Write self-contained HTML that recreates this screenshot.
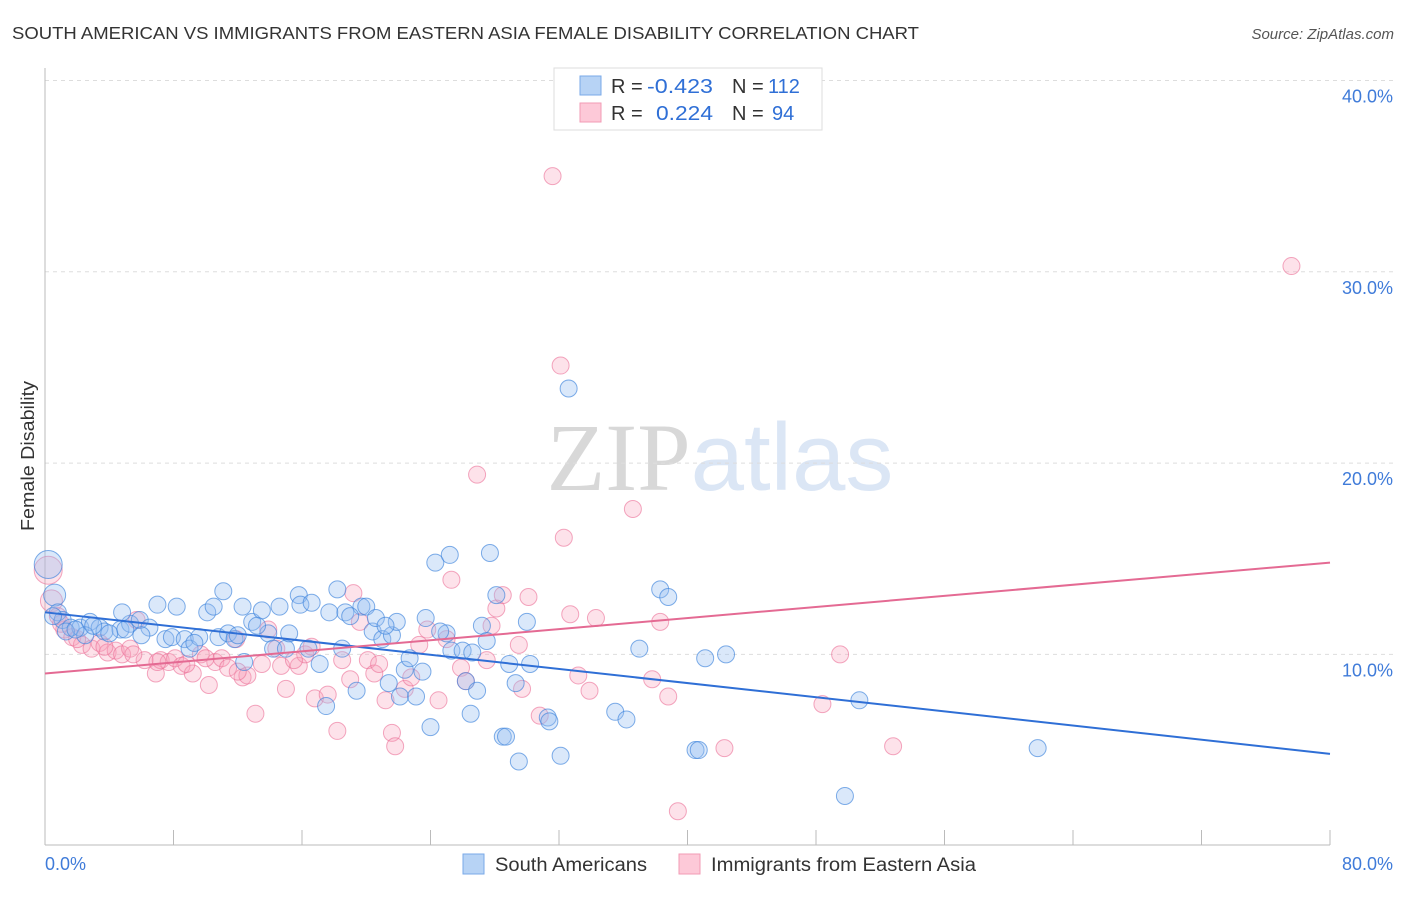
<!DOCTYPE html>
<html><head><meta charset="utf-8"><style>
body{margin:0;background:#fff;font-family:"Liberation Sans",sans-serif;}
svg text{font-family:"Liberation Sans",sans-serif;}
</style></head><body>
<svg id="chart" width="1406" height="892" viewBox="0 0 1406 892" xmlns="http://www.w3.org/2000/svg">
<text x="12" y="39" font-size="17.5" fill="#333" textLength="907" lengthAdjust="spacingAndGlyphs">SOUTH AMERICAN VS IMMIGRANTS FROM EASTERN ASIA FEMALE DISABILITY CORRELATION CHART</text>
<text x="1394" y="39" font-size="15" fill="#555" font-style="italic" text-anchor="end">Source: ZipAtlas.com</text>
<text x="720" y="490" font-size="96" text-anchor="middle" fill="#ddd"><tspan font-family="Liberation Serif" fill="#d8d8d8">ZIP</tspan><tspan fill="#dbe6f5">atlas</tspan></text>
<g id="grid"></g>
<g id="axes"></g>
<g id="pts"></g>
<g id="trend"></g>
<text transform="translate(34,456) rotate(-90)" font-size="18" fill="#333" text-anchor="middle" textLength="150" lengthAdjust="spacingAndGlyphs">Female Disability</text>
<g>
<rect x="554" y="68" width="268" height="62" fill="#fff" stroke="#ddd"/>
<rect x="580" y="76" width="21" height="19" fill="#b7d3f5" stroke="#7aa9e8"/>
<rect x="580" y="103" width="21" height="19" fill="#fdc9d8" stroke="#f29bb5"/>
<text x="611" y="93" font-size="20" fill="#333">R = <tspan x="647" fill="#2f6fd6" textLength="66" lengthAdjust="spacingAndGlyphs">-0.423</tspan><tspan x="732">N = </tspan><tspan x="768" fill="#2f6fd6">112</tspan></text>
<text x="611" y="120" font-size="20" fill="#333">R = <tspan x="656" fill="#2f6fd6" textLength="57" lengthAdjust="spacingAndGlyphs">0.224</tspan><tspan x="732">N = </tspan><tspan x="772" fill="#2f6fd6">94</tspan></text>
</g>
<g>
<rect x="463" y="854" width="21" height="20" fill="#b7d3f5" stroke="#7aa9e8"/>
<text x="495" y="871" font-size="19" fill="#333" textLength="152" lengthAdjust="spacingAndGlyphs">South Americans</text>
<rect x="679" y="854" width="21" height="20" fill="#fdc9d8" stroke="#f29bb5"/>
<text x="711" y="871" font-size="19" fill="#333" textLength="265" lengthAdjust="spacingAndGlyphs">Immigrants from Eastern Asia</text>
</g>
</svg>
<script>
const xTicks=[0,80];
const yTicks=[10,20,30,40];
const blueX=[0.2,0.6,0.8,1.1,1.6,2.2,2.8,3.4,3.7,4.7,5.3,5.9,4.8,6.5,7.0,7.5,7.9,8.2,8.7,9.0,9.6,10.1,10.5,10.8,11.1,11.4,11.8,12.3,12.4,12.9,13.5,13.9,14.2,14.6,15.0,15.2,15.8,15.9,16.6,16.4,17.1,17.5,17.7,18.2,18.7,18.5,19.4,19.7,20.0,20.4,20.6,21.0,21.4,21.6,21.9,22.1,22.4,22.7,23.1,23.5,23.7,24.0,24.3,25.2,25.0,25.3,26.0,26.2,26.5,26.9,27.2,27.5,27.7,28.1,28.5,28.7,28.9,29.3,29.5,30.0,30.2,31.3,31.4,32.1,32.6,35.5,36.2,37.0,38.3,38.8,40.5,40.7,41.1,42.4,49.8,50.7,61.8,1.3,2.5,3.0,4.0,5.0,6.0,9.3,12.0,13.2,19.0,21.2,24.6,26.6,0.5,1.9];
const blueY=[14.7,13.1,12.2,11.8,11.4,11.4,11.7,11.4,11.2,11.3,11.6,11.8,12.2,11.4,12.6,10.8,10.9,12.5,10.8,10.3,10.9,12.2,12.5,10.9,13.3,11.1,10.8,12.5,9.6,11.7,12.3,11.1,10.3,12.5,10.3,11.1,13.1,12.6,12.7,10.3,9.5,7.3,12.2,13.4,12.2,10.3,8.1,12.5,12.5,11.2,11.9,10.8,8.5,11.0,11.7,7.8,9.2,9.8,7.8,9.1,11.9,6.2,14.8,15.2,11.1,10.2,10.2,8.6,6.9,8.1,11.5,10.7,15.3,13.1,5.7,5.7,9.5,8.5,4.4,11.7,9.5,6.7,6.5,4.7,23.9,7.0,6.6,10.3,13.4,13.0,5.0,5.0,9.8,10.0,2.6,7.6,5.1,11.2,11.0,11.5,11.1,11.3,11.0,10.6,11.0,11.5,12.0,11.5,11.2,10.1,12.0,11.3];
const pinkX=[0.2,0.4,0.8,1.2,1.7,2.3,2.9,3.4,3.9,4.4,4.8,5.3,5.7,6.2,6.9,7.2,7.7,8.1,8.5,9.2,9.7,10.2,10.6,11.0,11.4,11.9,12.3,12.6,13.1,13.5,13.9,14.4,14.7,15.0,15.8,16.2,16.6,16.8,17.6,18.2,18.5,19.0,19.2,19.6,20.1,20.5,20.8,21.2,21.6,21.8,22.4,22.8,23.3,23.8,24.5,25.0,25.3,25.9,26.2,26.9,27.5,27.8,28.1,28.5,29.5,29.7,30.1,30.8,31.6,32.1,32.3,32.7,33.2,33.9,34.3,36.6,37.8,38.3,38.8,39.4,42.3,48.4,49.5,52.8,77.6,1.0,2.0,3.7,5.5,7.0,8.8,10.0,12.0,15.5];
const pinkY=[14.4,12.8,12.0,11.3,10.9,10.5,10.3,10.6,10.1,10.2,10.0,10.3,11.8,9.7,9.0,9.7,9.6,9.8,9.4,9.0,10.0,8.4,9.6,9.8,9.3,10.8,8.8,8.9,6.9,9.5,11.3,10.3,9.4,8.2,9.4,10.0,10.4,7.7,7.9,6.0,9.7,8.7,13.2,11.7,9.7,9.0,9.5,7.6,5.9,5.2,8.2,8.8,10.5,11.3,7.6,10.8,13.9,9.3,8.6,19.4,9.7,11.5,12.4,13.1,10.5,8.2,13.0,6.8,35.0,25.1,16.1,12.1,8.9,8.1,11.9,17.6,8.7,11.7,7.8,1.8,5.1,7.4,10.0,5.2,30.3,11.6,10.8,10.4,10.0,9.6,9.5,9.8,9.1,9.7];
const bigBlue=[0,1], bigPink=[0,1];
const blueTrend=[12.2,4.8], pinkTrend=[9.0,14.8];
const NS="http://www.w3.org/2000/svg";
const X=v=>45+v/80*1285, Y=v=>845.7-v*19.13;
function mk(tag,attrs,parent){const e=document.createElementNS(NS,tag);for(const k in attrs)e.setAttribute(k,attrs[k]);parent.appendChild(e);return e;}
const grid=document.getElementById('grid'), axes=document.getElementById('axes');
yTicks.forEach(t=>{
 const l=mk('line',{x1:45,x2:1393,y1:Y(t),y2:Y(t),stroke:'#ddd','stroke-dasharray':'4,4'},grid);
 
 
 const tx=mk('text',{x:1393,y:Y(t)+22,'font-size':18,fill:'#3f7bd9','text-anchor':'end'},axes);
 tx.textContent=t.toFixed(1)+'%';
 
 
});
mk('line',{x1:45,x2:45,y1:68,y2:845,stroke:'#bbb'},axes);
mk('line',{x1:45,x2:1330,y1:845,y2:845,stroke:'#bbb'},axes);
for(let v=0;v<=80;v+=8){const t=mk('line',{x1:X(v),x2:X(v),y1:830,y2:845,stroke:'#bbb'},axes);
 
 }
xTicks.forEach((t,i)=>{const tx=mk('text',{x:i==0?45:1393,y:870,'font-size':18,fill:'#3f7bd9','text-anchor':i==0?'start':'end'},axes);
 tx.textContent=t.toFixed(1)+'%';
 
 });
const pts=document.getElementById('pts');
pinkX.forEach((v,i)=>{const c=mk('circle',{cx:X(v),cy:Y(pinkY[i]),r:bigPink.includes(i)?(i==0?14:11):8.5,fill:'rgba(248,160,185,0.3)',stroke:'rgba(235,110,150,0.6)','stroke-width':1},pts);
 
 });
blueX.forEach((v,i)=>{const c=mk('circle',{cx:X(v),cy:Y(blueY[i]),r:bigBlue.includes(i)?(i==0?14:11):8.5,fill:'rgba(150,190,240,0.35)',stroke:'rgba(60,130,220,0.65)','stroke-width':1},pts);
 
 });
const tr=document.getElementById('trend');
const bl=mk('line',{x1:X(0),x2:X(80),y1:Y(blueTrend[0]),y2:Y(blueTrend[1]),stroke:'#2f6fd6','stroke-width':2},tr);


const pl=mk('line',{x1:X(0),x2:X(80),y1:Y(pinkTrend[0]),y2:Y(pinkTrend[1]),stroke:'#e46a93','stroke-width':2},tr);


</script>
</body></html>
